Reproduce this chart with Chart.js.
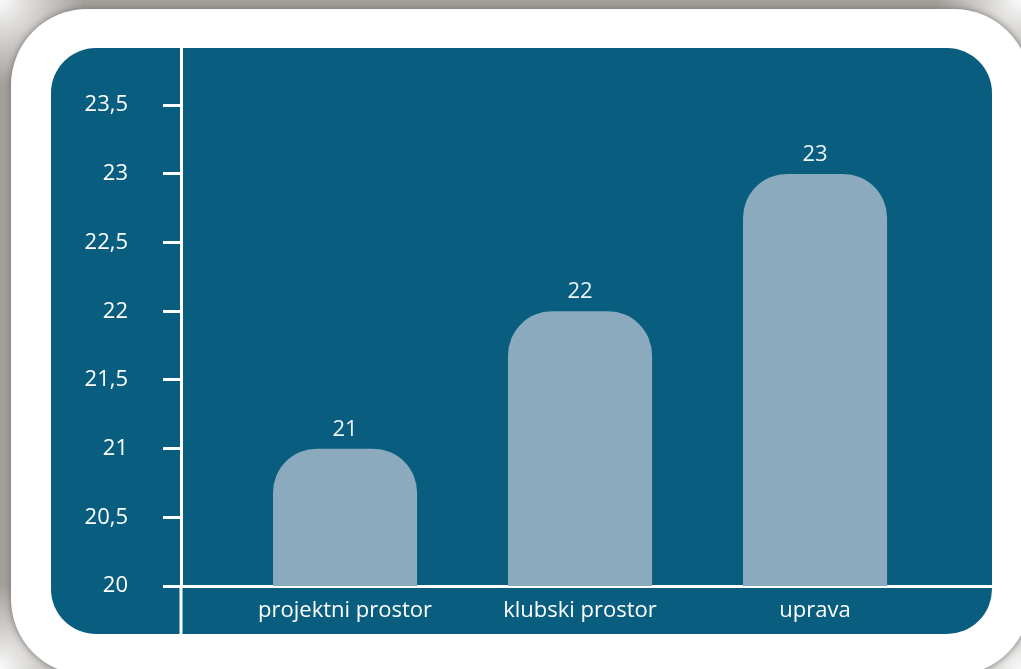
<!DOCTYPE html>
<html>
<head>
<meta charset="utf-8">
<script src="https://cdn.jsdelivr.net/npm/chart.js@4/dist/chart.umd.min.js"></script>
<style>
  html, body { margin: 0; padding: 0; background: #a29f9b; }
  canvas { display: block; }
</style>
</head>
<body>
<canvas id="c" width="1021" height="669"></canvas>
<script>
// donnees du graphique
const categories = ['projektni prostor', 'klubski prostor', 'uprava'];
const positions = [1, 2, 3];
const values = [21, 22, 23];

const teal = '#095e7f';
const barColor = '#8baabd';
const fontFamily = '"Open Sans", sans-serif';

// fond : cadre gris, carte blanche, panneau bleu
const panel = { x: 51, y: 48, w: 941, h: 586, r: 45 };
const card = { x: 11, y: 9, w: 1019, h: 666, r: 76 };
const xMin = 0.302, xMax = 3.753;

function roundRect(ctx, x, y, w, h, r) {
    ctx.beginPath();
    ctx.moveTo(x + r, y);
    ctx.arcTo(x + w, y, x + w, y + h, r);
    ctx.arcTo(x + w, y + h, x, y + h, r);
    ctx.arcTo(x, y + h, x, y, r);
    ctx.arcTo(x, y, x + w, y, r);
    ctx.closePath();
}

const backgroundPlugin = {
    id: 'background',
    beforeDraw(chart) {
        const ctx = chart.ctx;
        const W = chart.width, H = chart.height;
        ctx.save();
        ctx.fillStyle = '#a29f9b';
        ctx.fillRect(0, 0, W, H);
        // coins plus clairs
        [[0, 0], [W, 0], [0, H], [W, H]].forEach(([cx, cy]) => {
            const g = ctx.createRadialGradient(cx, cy, 0, cx, cy, 85);
            g.addColorStop(0, 'rgba(255,255,255,0.95)');
            g.addColorStop(1, 'rgba(255,255,255,0)');
            ctx.fillStyle = g;
            ctx.fillRect(cx - 90, cy - 90, 180, 180);
        });
        ctx.shadowColor = 'rgba(110,105,100,0.9)';
        ctx.shadowBlur = 7;
        ctx.fillStyle = '#ffffff';
        roundRect(ctx, card.x, card.y, card.w, card.h, card.r);
        ctx.fill();
        ctx.shadowBlur = 0;
        ctx.fillStyle = teal;
        roundRect(ctx, panel.x, panel.y, panel.w, panel.h, panel.r);
        ctx.fill();
        ctx.restore();
    },
    afterDraw(chart) {
        // prolongement de l'axe Y sous l'axe X
        const ctx = chart.ctx;
        const a = chart.chartArea;
        ctx.save();
        ctx.strokeStyle = '#ffffff';
        ctx.lineWidth = 3;
        ctx.beginPath();
        ctx.moveTo(a.left, a.bottom);
        ctx.lineTo(a.left, panel.y + panel.h);
        ctx.stroke();
        ctx.restore();
    }
};

// etiquettes de valeur au-dessus des barres
const valueLabels = {
    id: 'valueLabels',
    afterDatasetsDraw(chart) {
        const ctx = chart.ctx;
        const meta = chart.getDatasetMeta(0);
        ctx.save();
        ctx.fillStyle = '#eef3f6';
        ctx.font = '22px ' + fontFamily;
        ctx.textAlign = 'center';
        ctx.textBaseline = 'alphabetic';
        meta.data.forEach((bar, i) => {
            ctx.fillText(String(values[i]), bar.x, bar.y - 13);
        });
        ctx.restore();
    }
};

const ctx = document.getElementById('c').getContext('2d');

window.chart = new Chart(ctx, {
    type: 'bar',
    data: {
        datasets: [{
            data: positions.map((p, i) => ({ x: p, y: values[i] })),
            backgroundColor: barColor,
            borderWidth: 0,
            borderRadius: { topLeft: 44, topRight: 44, bottomLeft: 0, bottomRight: 0 },
            borderSkipped: 'start',
            categoryPercentage: 1,
            barPercentage: 0.613
        }]
    },
    options: {
        responsive: false,
        animation: false,
        layout: { padding: { top: 48, right: 29, left: 0, bottom: 0 } },
        plugins: {
            legend: { display: false },
            tooltip: { enabled: false }
        },
        scales: {
            x: {
                type: 'linear',
                offset: false,
                bounds: 'data',
                min: xMin,
                max: xMax,
                afterDataLimits: (scale) => {
                    scale.min = xMin;
                    scale.max = xMax;
                },
                afterBuildTicks: (scale) => {
                    scale.min = xMin;
                    scale.max = xMax;
                    scale.ticks = positions.map(v => ({ value: v }));
                },
                afterFit: (scale) => { scale.height = 83; },
                ticks: {
                    color: '#ffffff',
                    font: { family: fontFamily, size: 22 },
                    padding: 12,
                    autoSkip: false,
                    maxRotation: 0,
                    callback: (v) => categories[positions.indexOf(v)] ?? ''
                },
                grid: { offset: false, drawOnChartArea: false, drawTicks: false },
                border: { color: '#ffffff', width: 3 }
            },
            y: {
                min: 20,
                max: 23.915,
                afterFit: (scale) => { scale.width = 181; },
                ticks: {
                    stepSize: 0.5,
                    includeBounds: false,
                    color: '#ffffff',
                    font: { family: fontFamily, size: 22 },
                    padding: 35,
                    callback: (v) => String(v).replace('.', ',')
                },
                grid: {
                    drawOnChartArea: false,
                    drawTicks: true,
                    tickLength: 18,
                    color: '#ffffff',
                    lineWidth: 3
                },
                border: { color: '#ffffff', width: 3 }
            }
        }
    },
    plugins: [backgroundPlugin, valueLabels]
});
</script>
</body>
</html>
